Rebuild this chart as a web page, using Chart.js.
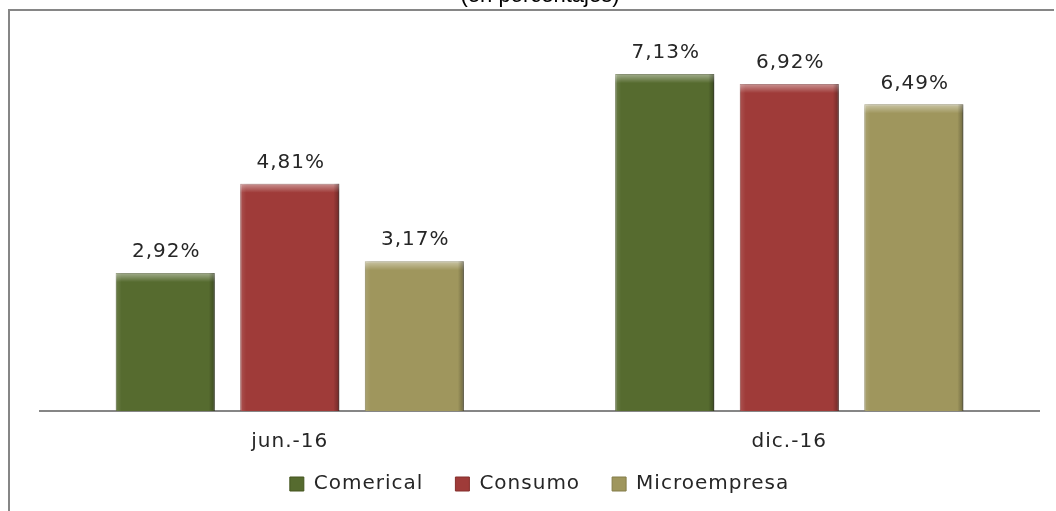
<!DOCTYPE html>
<html>
<head>
<meta charset="utf-8">
<script src="https://cdn.jsdelivr.net/npm/chart.js@4"></script>
<style>
  html, body { margin: 0; padding: 0; width: 1056px; height: 511px; overflow: hidden; background: #fff; }
  .line { position: absolute; background: #868686; }
  #top-line { left: 8px; top: 9px; width: 1046px; height: 2px; }
  #left-line { left: 8px; top: 9px; width: 2px; height: 502px; }
  #title { position: absolute; left: 0; width: 1080px; top: -16px; text-align: center;
           font-family: "Liberation Sans", Arial, sans-serif; font-size: 22px; line-height: 22px; color: #000; }
  #wrap { position: absolute; left: 0; top: 0; width: 1056px; height: 511px; }
</style>
</head>
<body>
<div id="wrap"><canvas id="mainChart"></canvas></div>
<div class="line" id="top-line"></div>
<div class="line" id="left-line"></div>
<div id="title">(en porcentajes)</div>
<script>
const categorias = ['jun.-16', 'dic.-16'];
const comercial = [2.92, 7.13];
const consumo = [4.81, 6.92];
const microempresa = [3.17, 6.49];

const FONT = '"DejaVu Sans", "Open Sans", sans-serif';

// el texto del original sale ensanchado, lo imitamos con letterSpacing
const espaciado = {
    id: 'espaciado',
    beforeUpdate(chart) { chart.ctx.letterSpacing = '1px'; },
    beforeDraw(chart) { chart.ctx.letterSpacing = '1px'; }
};

// la leyenda necesita mucho padding horizontal; la subimos después del layout
const subirLeyenda = {
    id: 'subirLeyenda',
    afterLayout(chart) {
        const lg = chart.legend;
        if (!lg) return;
        lg.top -= 23;
        lg.bottom -= 23;
    }
};

// sombra suave a la derecha de las barras
const sombra = {
    id: 'sombra',
    beforeDatasetsDraw(chart) {
        const c = chart.ctx;
        c.save();
        c.shadowColor = 'rgba(0,0,0,0.35)';
        c.shadowBlur = 6;
        c.shadowOffsetX = 3;
        c.shadowOffsetY = 1;
    },
    afterDatasetsDraw(chart) { chart.ctx.restore(); }
};

// biselado: franja clara arriba y bordes laterales más oscuros
const bisel = {
    id: 'bisel',
    afterDatasetsDraw(chart) {
        const c = chart.ctx;
        c.save();
        chart.data.datasets.forEach((ds, i) => {
            chart.getDatasetMeta(i).data.forEach(bar => {
                const l = bar.x - bar.width / 2, r = bar.x + bar.width / 2;
                const t = bar.y, b = bar.base;
                let g = c.createLinearGradient(0, t, 0, t + 9);
                g.addColorStop(0, 'rgba(255,255,255,0.45)');
                g.addColorStop(1, 'rgba(255,255,255,0)');
                c.fillStyle = g;
                c.fillRect(l, t, r - l, 9);
                g = c.createLinearGradient(l, 0, l + 6, 0);
                g.addColorStop(0, 'rgba(255,255,255,0.12)');
                g.addColorStop(1, 'rgba(255,255,255,0)');
                c.fillStyle = g;
                c.fillRect(l, t, 6, b - t);
                g = c.createLinearGradient(r - 6, 0, r, 0);
                g.addColorStop(0, 'rgba(0,0,0,0)');
                g.addColorStop(1, 'rgba(0,0,0,0.3)');
                c.fillStyle = g;
                c.fillRect(r - 6, t, 6, b - t);
            });
        });
        c.restore();
    }
};

const etiquetas = {
    id: 'etiquetas',
    afterDatasetsDraw(chart) {
        const c = chart.ctx;
        c.save();
        c.font = '20px ' + FONT;
        c.fillStyle = '#262626';
        c.textAlign = 'center';
        c.textBaseline = 'bottom';
        chart.data.datasets.forEach((ds, i) => {
            chart.getDatasetMeta(i).data.forEach((bar, j) => {
                const txt = ds.data[j].toFixed(2).replace('.', ',') + '%';
                c.fillText(txt, bar.x + 1, bar.y - 11);
            });
        });
        c.restore();
    }
};

const ctx = document.getElementById('mainChart').getContext('2d');
const mainChart = new Chart(ctx, {
    type: 'bar',
    data: {
        labels: categorias,
        datasets: [
            { label: 'Comerical', data: comercial, backgroundColor: '#566b2f', borderColor: '#44551f', borderWidth: 1 },
            { label: 'Consumo', data: consumo, backgroundColor: '#9f3b39', borderColor: '#842e2c', borderWidth: 1 },
            { label: 'Microempresa', data: microempresa, backgroundColor: '#9f965d', borderColor: '#837c48', borderWidth: 1 }
        ]
    },
    options: {
        responsive: true,
        maintainAspectRatio: false,
        animation: false,
        layout: { padding: { left: 40, right: 17, top: 33, bottom: -16 } },
        datasets: { bar: { categoryPercentage: 0.748, barPercentage: 0.795 } },
        scales: {
            x: {
                grid: { display: false },
                border: { color: '#868686', width: 2 },
                ticks: { color: '#262626', font: { family: FONT, size: 20 }, padding: 11 }
            },
            y: { display: false, min: 0, max: 8 }
        },
        plugins: {
            legend: {
                position: 'bottom',
                labels: {
                    boxWidth: 14, boxHeight: 14, padding: 32,
                    color: '#262626', font: { family: FONT, size: 20 }
                }
            },
            tooltip: { enabled: false }
        }
    },
    plugins: [espaciado, subirLeyenda, sombra, bisel, etiquetas]
});
</script>
</body>
</html>
